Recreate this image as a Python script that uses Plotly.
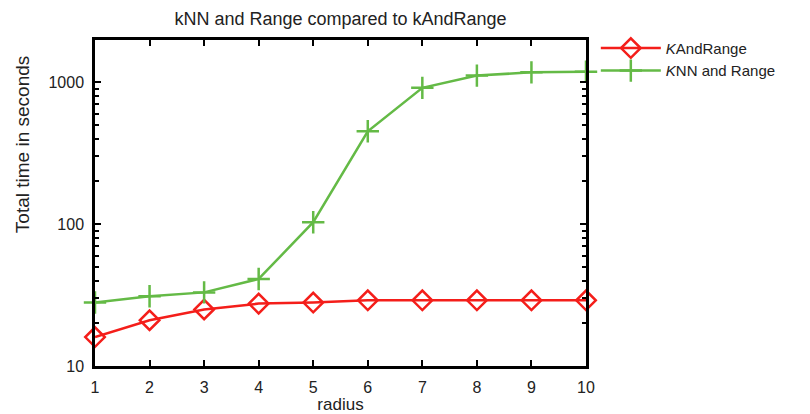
import plotly.graph_objects as go

radius = [1, 2, 3, 4, 5, 6, 7, 8, 9, 10]
kandrange_time = [16, 21, 25, 27.5, 28, 29, 29, 29, 29, 29]
knn_range_time = [28, 31, 33, 41, 103, 450, 910, 1110, 1170, 1180]
y_tick_vals = [10, 100, 1000]
y_tick_text = ["10", "100", "1000"]
y_minor_vals = [20, 30, 40, 50, 60, 70, 80, 90,
                200, 300, 400, 500, 600, 700, 800, 900]

red = "#f41e1a"
green = "#64ba46"
font_family = "Liberation Sans, Arial, sans-serif"

fig = go.Figure()
fig.add_trace(go.Scatter(
    x=radius, y=kandrange_time, mode="lines+markers",
    name="<i>K</i>AndRange",
    line=dict(color=red, width=2.5),
    marker=dict(symbol="diamond-open", size=15, color=red, line=dict(width=2.5, color=red)),
    cliponaxis=False,
))
fig.add_trace(go.Scatter(
    x=radius, y=knn_range_time, mode="lines+markers",
    name="<i>K</i>NN and Range",
    line=dict(color=green, width=2.5),
    marker=dict(symbol="cross-thin-open", size=16, color=green, line=dict(width=2.5, color=green)),
    cliponaxis=False,
))

fig.update_layout(
    width=810, height=414,
    margin=dict(l=95, r=224, t=40, b=48, autoexpand=False),
    paper_bgcolor="white", plot_bgcolor="white",
    font=dict(family=font_family, color="#222"),
    title=dict(text="kNN and Range compared to kAndRange", x=(95 + 586) / 2 / 810,
               xanchor="center", y=0.955, yanchor="middle", font=dict(size=18)),
    legend=dict(x=1.02, y=1.025, xanchor="left", yanchor="top", font=dict(size=15),
                bgcolor="rgba(0,0,0,0)", tracegroupgap=0, itemwidth=60),
    showlegend=True,
    xaxis=dict(
        range=[1, 10], tickmode="array", tickvals=radius,
        showline=True, linecolor="black", linewidth=2.5, mirror="allticks",
        ticks="inside", tickcolor="black", tickwidth=2, ticklen=6,
        showgrid=False, zeroline=False, ticklabelstandoff=5, automargin=False,
        tickfont=dict(size=16, color="#222"),
        title=dict(text="radius", font=dict(size=17), standoff=8),
    ),
    yaxis=dict(
        type="log", range=[1, 3.296], tickmode="array",
        tickvals=y_tick_vals, ticktext=y_tick_text,
        showline=True, linecolor="black", linewidth=2.5, mirror="allticks",
        ticks="inside", tickcolor="black", tickwidth=2, ticklen=6,
        showgrid=False, zeroline=False, ticklabelstandoff=5, automargin=False,
        tickfont=dict(size=16, color="#222"),
        minor=dict(tickmode="array", tickvals=y_minor_vals, ticks="inside",
                   ticklen=4, tickwidth=2, tickcolor="black", showgrid=False),
    ),
)

# Y axis label, placed left of the tick labels and raised toward the top half
fig.add_annotation(
    text="Total time in seconds", textangle=-90,
    xref="paper", yref="paper", x=-0.149, y=0.68,
    xanchor="center", yanchor="middle", showarrow=False,
    font=dict(size=19, color="#222"),
)

fig.write_html("out.html")
